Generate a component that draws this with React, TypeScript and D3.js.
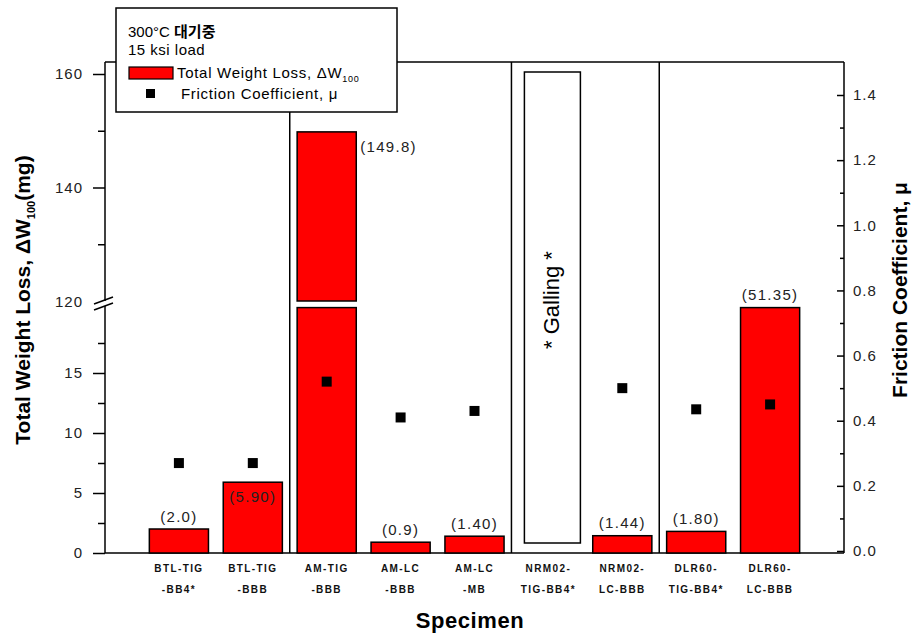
import * as d3 from "d3";
import { useEffect, useRef } from "react";

// specimens, two lines each under the axis
const specimens = [
  ["BTL-TIG", "-BB4*"],
  ["BTL-TIG", "-BBB"],
  ["AM-TIG", "-BBB"],
  ["AM-LC", "-BBB"],
  ["AM-LC", "-MB"],
  ["NRM02-", "TIG-BB4*"],
  ["NRM02-", "LC-BBB"],
  ["DLR60-", "TIG-BB4*"],
  ["DLR60-", "LC-BBB"],
];
const groups = ["BTL", "BTL", "AM", "AM", "AM", "NRM02", "NRM02", "DLR60", "DLR60"];
const weightLoss = [2.0, 5.9, 149.8, 0.9, 1.4, null, 1.44, 1.8, 51.35];
const weightLabels = ["(2.0)", "(5.90)", "(149.8)", "(0.9)", "(1.40)", "", "(1.44)", "(1.80)", "(51.35)"];
const labelPlacement = ["above", "inside", "right", "above", "above", "", "above", "above", "above"];
const friction = [0.27, 0.27, 0.52, 0.41, 0.43, null, 0.5, 0.435, 0.45];
const galling = [false, false, false, false, false, true, false, false, false];

const lowTicks = [0, 5, 10, 15];
const lowMinor = [2.5, 7.5, 12.5, 17.5];
const highTicks = [140, 160];
const highLabels = [120, 140, 160];
const highMinor = [130, 150];
const muTicks = [0, 0.2, 0.4, 0.6, 0.8, 1.0, 1.2, 1.4];
const muMinor = [0.1, 0.3, 0.5, 0.7, 0.9, 1.1, 1.3];

const W = 921;
const H = 635;
const left = 105;
const right = 844;
const top = 62;
const bottom = 553;
const LOW_CAP = 20.45;
const FONT = "'Liberation Sans', Arial, sans-serif";

const App = () => {
  const ref = useRef<SVGSVGElement>(null);

  useEffect(() => {
    const svg = d3.select(ref.current);
    svg.selectAll("*").remove();

    const idx = specimens.map((_, i) => i);
    const x = d3.scalePoint<number>().domain(idx).range([left, right]).padding(1);
    const step = x.step();
    const bw = step * 0.8;

    const yLow = d3.scaleLinear().domain([0, 15]).range([bottom, 373]);
    const yHigh = d3.scaleLinear().domain([120, 160]).range([301, 74]);
    const yMu = d3.scaleLinear().domain([0, 1.4]).range([551, 95]);

    // frame
    const frame = svg.append("g").attr("stroke", "#000").attr("stroke-width", 1.5);
    frame.append("line").attr("x1", left).attr("x2", right).attr("y1", top).attr("y2", top);
    frame.append("line").attr("x1", left).attr("x2", right).attr("y1", bottom).attr("y2", bottom);
    frame.append("line").attr("x1", left).attr("x2", left).attr("y1", top).attr("y2", bottom);
    frame.append("line").attr("x1", right).attr("x2", right).attr("y1", top).attr("y2", bottom);

    // group separators
    idx.slice(1).forEach((i) => {
      if (groups[i] !== groups[i - 1]) {
        const sx = (x(i)! + x(i - 1)!) / 2;
        frame.append("line").attr("x1", sx).attr("x2", sx).attr("y1", top).attr("y2", bottom);
      }
    });

    // bars
    const bars = svg.append("g").attr("fill", "#ff0000").attr("stroke", "#000").attr("stroke-width", 1.5);
    weightLoss.forEach((v, i) => {
      if (v == null) return;
      const bx = x(i)! - bw / 2;
      const lowTop = yLow(Math.min(v, LOW_CAP));
      bars.append("rect").attr("x", bx).attr("y", lowTop).attr("width", bw).attr("height", bottom - lowTop);
      if (v >= 120) {
        bars.append("rect").attr("x", bx).attr("y", yHigh(v)).attr("width", bw).attr("height", yHigh(120) - yHigh(v));
      }
    });

    // galling box
    idx.filter((i) => galling[i]).forEach((i) => {
      const gx = x(i)! + 4;
      svg.append("rect").attr("x", gx - 28).attr("y", 72).attr("width", 56).attr("height", 471)
        .attr("fill", "#fff").attr("stroke", "#000").attr("stroke-width", 1.5);
      svg.append("text").attr("transform", `translate(${gx + 7},300) rotate(-90)`)
        .attr("text-anchor", "middle").attr("font-family", FONT).attr("font-size", 22)
        .text("* Galling *");
    });

    // value labels
    weightLoss.forEach((v, i) => {
      if (v == null) return;
      const barTop = v >= 120 ? yHigh(v) : yLow(Math.min(v, LOW_CAP));
      const t = svg.append("text").attr("font-family", FONT).attr("font-size", 15)
        .attr("letter-spacing", 1.3).attr("fill", "#222").attr("dominant-baseline", "central")
        .text(weightLabels[i]);
      if (labelPlacement[i] === "right") {
        t.attr("x", x(i)! + bw / 2 + 4).attr("y", barTop + 15).attr("text-anchor", "start");
      } else if (labelPlacement[i] === "inside") {
        t.attr("x", x(i)!).attr("y", barTop + 14).attr("text-anchor", "middle");
      } else {
        t.attr("x", x(i)!).attr("y", barTop - 13).attr("text-anchor", "middle");
      }
    });

    // friction markers
    svg.append("g").selectAll("rect")
      .data(idx.filter((i) => friction[i] != null))
      .join("rect")
      .attr("x", (i) => x(i)! - 5)
      .attr("y", (i) => yMu(friction[i]!) - 5)
      .attr("width", 10).attr("height", 10).attr("fill", "#000");

    // left axis (lower segment)
    const axisStyle = (g: any) => {
      g.select(".domain").remove();
      g.selectAll("line").attr("stroke", "#000").attr("stroke-width", 1.5);
      g.selectAll("text").attr("font-family", FONT).attr("font-size", 15)
        .attr("letter-spacing", 1).attr("fill", "#222");
    };
    svg.append("g").attr("transform", `translate(${left},0)`)
      .call(d3.axisLeft(yLow).tickValues(lowTicks).tickSize(12).tickPadding(10).tickFormat(d3.format("d")))
      .call(axisStyle);
    svg.append("g").attr("transform", `translate(${left},0)`)
      .call(d3.axisLeft(yLow).tickValues(lowMinor).tickSize(7).tickFormat(() => ""))
      .call(axisStyle);
    // upper segment
    svg.append("g").attr("transform", `translate(${left},0)`)
      .call(d3.axisLeft(yHigh).tickValues(highTicks).tickSize(12).tickPadding(10).tickFormat(d3.format("d")))
      .call(axisStyle);
    svg.append("g").attr("transform", `translate(${left},0)`)
      .call(d3.axisLeft(yHigh).tickValues(highMinor).tickSize(7).tickFormat(() => ""))
      .call(axisStyle);
    svg.append("text").attr("x", left - 22).attr("y", yHigh(highLabels[0]))
      .attr("text-anchor", "end").attr("dominant-baseline", "central")
      .attr("font-family", FONT).attr("font-size", 15).attr("letter-spacing", 1).attr("fill", "#222")
      .text(highLabels[0]);

    // axis break
    svg.append("rect").attr("x", left - 3).attr("y", 301).attr("width", 6).attr("height", 5).attr("fill", "#fff");
    const brk = svg.append("g").attr("stroke", "#000").attr("stroke-width", 1.5);
    brk.append("line").attr("x1", left - 11).attr("y1", 304).attr("x2", left + 8).attr("y2", 297);
    brk.append("line").attr("x1", left - 11).attr("y1", 310).attr("x2", left + 8).attr("y2", 303);

    // right axis
    svg.append("g").attr("transform", `translate(${right},0)`)
      .call(d3.axisRight(yMu).tickValues(muTicks).tickSize(-7).tickPadding(9).tickFormat(d3.format(".1f")))
      .call(axisStyle);
    svg.append("g").attr("transform", `translate(${right},0)`)
      .call(d3.axisRight(yMu).tickValues(muMinor).tickSize(-4).tickFormat(() => ""))
      .call(axisStyle);

    // x tick labels
    const xl = svg.append("g").attr("font-family", FONT).attr("font-size", 10).attr("font-weight", "bold")
      .attr("letter-spacing", 1.4).attr("fill", "#111").attr("text-anchor", "middle");
    specimens.forEach((s, i) => {
      xl.append("text").attr("x", x(i)!).attr("y", 572).text(s[0]);
      xl.append("text").attr("x", x(i)!).attr("y", 593).text(s[1]);
    });

    // axis titles
    svg.append("text").attr("x", 470).attr("y", 628).attr("text-anchor", "middle")
      .attr("font-family", FONT).attr("font-size", 22).attr("font-weight", "bold").attr("letter-spacing", 0.6)
      .text("Specimen");

    const lt = svg.append("text").attr("transform", "translate(30,300) rotate(-90)")
      .attr("text-anchor", "middle").attr("font-family", FONT).attr("font-size", 21).attr("font-weight", "bold");
    lt.append("tspan").text("Total Weight Loss, ΔW");
    lt.append("tspan").attr("font-size", 11).attr("dy", 5).text("100");
    lt.append("tspan").attr("dy", -5).text("(mg)");

    svg.append("text").attr("transform", "translate(907,290) rotate(-90)")
      .attr("text-anchor", "middle").attr("font-family", FONT).attr("font-size", 21).attr("font-weight", "bold")
      .text("Friction Coefficient, μ");

    // legend
    const lg = svg.append("g");
    lg.append("rect").attr("x", 116).attr("y", 8).attr("width", 281).attr("height", 104)
      .attr("fill", "#fff").attr("stroke", "#000").attr("stroke-width", 1.5);
    const l1 = lg.append("text").attr("x", 128).attr("y", 37).attr("font-family", FONT).attr("font-size", 15);
    l1.append("tspan").text("300°C ");
    l1.append("tspan").attr("font-family", "'Noto Sans CJK KR', sans-serif").attr("font-weight", "bold").text("대기중");
    lg.append("text").attr("x", 128).attr("y", 55).attr("font-family", FONT).attr("font-size", 15)
      .attr("letter-spacing", 0.5).text("15 ksi load");
    lg.append("rect").attr("x", 129).attr("y", 67).attr("width", 44).attr("height", 12)
      .attr("fill", "#ff0000").attr("stroke", "#000").attr("stroke-width", 1.2);
    const l3 = lg.append("text").attr("x", 177).attr("y", 78).attr("font-family", FONT).attr("font-size", 15)
      .attr("letter-spacing", 0.7);
    l3.append("tspan").text("Total Weight Loss, ΔW");
    l3.append("tspan").attr("font-size", 9).attr("dy", 4).text("100");
    lg.append("rect").attr("x", 146).attr("y", 89).attr("width", 9).attr("height", 9).attr("fill", "#000");
    lg.append("text").attr("x", 181).attr("y", 99).attr("font-family", FONT).attr("font-size", 15)
      .attr("letter-spacing", 0.7).text("Friction Coefficient, μ");
  }, []);

  return (
    <svg
      ref={ref}
      width={W}
      height={H}
      style={{ position: "absolute", left: 0, top: 0, background: "#fff" }}
    />
  );
};

export default App;
